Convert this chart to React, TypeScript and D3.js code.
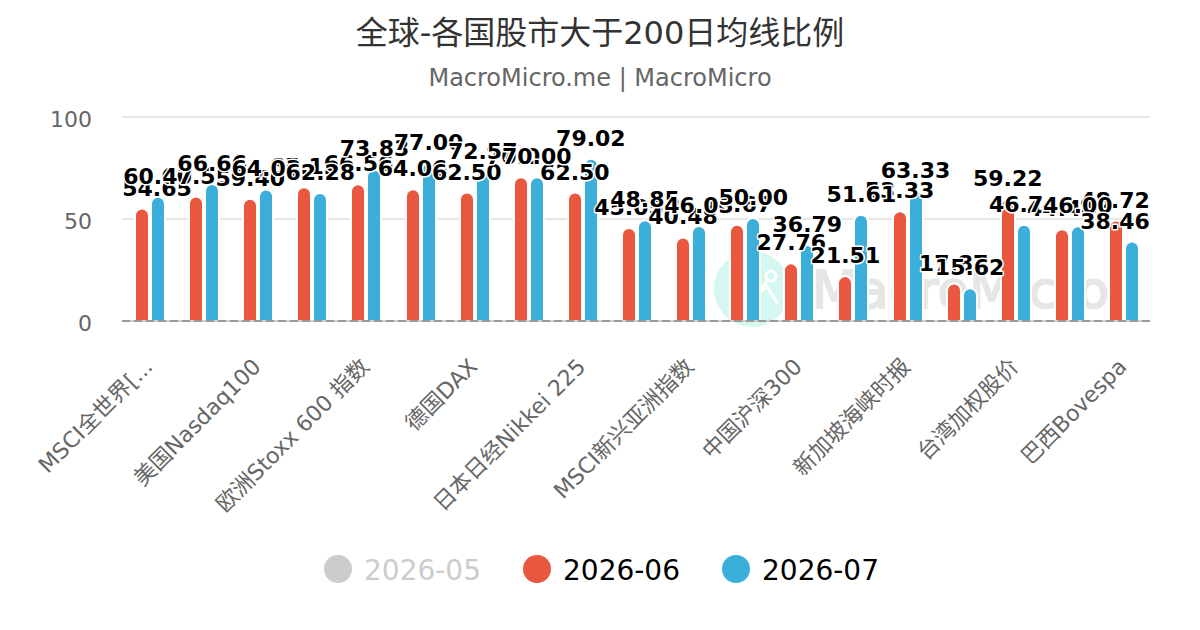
import { useEffect, useRef } from 'react'
import * as d3 from 'd3'

const TICK_LABELS = [
  'MSCI全世界[...',
  '美国Nasdaq100',
  '欧洲Stoxx 600 指数',
  '德国DAX',
  '日本日经Nikkei 225',
  'MSCI新兴亚洲指数',
  '中国沪深300',
  '新加坡海峡时报',
  '台湾加权股价',
  '巴西Bovespa',
]

const JUNE = [54.65, 60.53, 59.4, 65.12, 66.56, 64.06, 62.5, 70, 62.5, 45.05, 40.48, 46.67, 27.76, 21.51, 53.33, 17.87, 59.22, 44.44, 48.72]
const JULY = [60.47, 66.66, 64.03, 62.28, 73.83, 77, 72.57, 70, 79.02, 48.85, 46.03, 50, 36.79, 51.61, 63.33, 15.62, 46.74, 46, 38.46]

const LEGEND = [
  { label: '2026-05', color: '#cccccc', text: '#cccccc' },
  { label: '2026-06', color: '#E9573F', text: '#000000' },
  { label: '2026-07', color: '#3BAEDA', text: '#000000' },
]

const W = 1200
const H = 630
const FONT = '"DejaVu Sans", "Noto Sans CJK SC", sans-serif'

export default function App() {
  const svgRef = useRef<SVGSVGElement>(null)

  useEffect(() => {
    const svg = d3.select(svgRef.current!)
    svg.selectAll('*').remove()

    const x = d3.scaleBand<number>().domain(d3.range(JUNE.length)).range([122, 1150])
    const y = d3.scaleLinear().domain([0, 100]).range([321, 117])
    const inner = d3.scaleOrdinal<string, number>().domain(['jun', 'jul']).range([-14, 2])
    const barW = 14

    svg.append('text')
      .attr('x', W / 2).attr('y', 44).attr('text-anchor', 'middle')
      .attr('font-size', 32).attr('fill', '#333333')
      .text('全球-各国股市大于200日均线比例')
    svg.append('text')
      .attr('x', W / 2).attr('y', 86).attr('text-anchor', 'middle')
      .attr('font-size', 24).attr('fill', '#666666')
      .text('MacroMicro.me | MacroMicro')

    // watermark
    const wm = svg.append('g')
    wm.append('circle').attr('cx', 752).attr('cy', 289).attr('r', 38).attr('fill', '#d4f7ef')
    wm.append('circle').attr('cx', 771).attr('cy', 276).attr('r', 5).attr('fill', 'none').attr('stroke', '#fff').attr('stroke-width', 3)
    wm.append('path').attr('d', 'M767 281 L752 304 M757 294 L767 287 L778 304').attr('fill', 'none').attr('stroke', '#fff').attr('stroke-width', 3)
    wm.append('text')
      .attr('x', 812).attr('y', 308)
      .attr('font-size', 52).attr('fill', '#e6e6e6')
      .attr('stroke', '#e6e6e6').attr('stroke-width', 2)
      .text('MacroMicro')

    svg.append('g').selectAll('line').data([50, 100]).join('line')
      .attr('x1', 122).attr('x2', 1150)
      .attr('y1', d => y(d)).attr('y2', d => y(d))
      .attr('stroke', '#e6e6e6').attr('stroke-width', 2)

    svg.append('g')
      .attr('transform', 'translate(122,2)')
      .call(d3.axisLeft(y).tickValues([0, 50, 100]).tickSize(0).tickPadding(30))
      .call(ax => {
        ax.select('.domain').remove()
        ax.selectAll('.tick text')
          .attr('font-family', FONT).attr('font-size', 22).attr('fill', '#666666')
      })

    const barPath = (px: number, v: number) => {
      const p = d3.path()
      const r = barW / 2
      const top = y(v) - 1
      p.moveTo(px, y(0))
      p.lineTo(px, top + r)
      p.arcTo(px, top, px + r, top, r)
      p.arcTo(px + barW, top, px + barW, top + r, r)
      p.lineTo(px + barW, y(0))
      p.closePath()
      return p.toString()
    }

    const center = (i: number) => x(i)! + x.bandwidth() / 2
    const series = [
      { key: 'jun', values: JUNE, color: LEGEND[1].color },
      { key: 'jul', values: JULY, color: LEGEND[2].color },
    ]

    series.forEach(s => {
      svg.append('g').selectAll('path').data(s.values).join('path')
        .attr('d', (v, i) => barPath(Math.round(center(i) + inner(s.key)), v))
        .attr('fill', s.color).attr('stroke', '#ffffff').attr('stroke-width', 2)
    })

    // baseline
    svg.append('line')
      .attr('x1', 122).attr('x2', 1150).attr('y1', y(0)).attr('y2', y(0))
      .attr('stroke', '#cccccc').attr('stroke-width', 2)
    svg.append('line')
      .attr('x1', 122).attr('x2', 1150).attr('y1', y(0)).attr('y2', y(0))
      .attr('stroke', '#999999').attr('stroke-width', 2).attr('stroke-dasharray', '8 4')

    // labels are pushed back inside the plot area at both ends
    const labelHalf = 35
    series.forEach(s => {
      svg.append('g').selectAll('text').data(s.values).join('text')
        .attr('x', (v, i) => Math.min(1150 - labelHalf, Math.max(122 + labelHalf, center(i) + inner(s.key) + barW / 2)))
        .attr('y', v => y(v) - 14)
        .attr('text-anchor', 'middle')
        .attr('font-size', 22).attr('font-weight', 700)
        .attr('fill', '#000000').attr('stroke', '#ffffff').attr('stroke-width', 3)
        .attr('paint-order', 'stroke').attr('stroke-linejoin', 'round')
        .text(v => v.toFixed(2))
    })

    svg.append('g').selectAll('text').data(TICK_LABELS).join('text')
      .attr('transform', (d, i) => `translate(${center(i * 2) + 5},${368}) rotate(-45)`)
      .attr('text-anchor', 'end')
      .attr('font-size', 22).attr('fill', '#666666')
      .text(d => d)

    const legendX = [338, 537, 736]
    const item = svg.append('g').selectAll('g').data(LEGEND).join('g')
      .attr('transform', (d, i) => `translate(${legendX[i]},569)`)
    item.append('circle').attr('r', 14).attr('fill', d => d.color)
    item.append('text')
      .attr('x', 26).attr('y', 11)
      .attr('font-size', 28)
      .attr('fill', d => d.text)
      .text(d => d.label)
  }, [])

  return (
    <svg
      ref={svgRef}
      width={W}
      height={H}
      fontFamily={FONT}
      style={{ position: 'absolute', left: 0, top: 0, background: '#ffffff' }}
    />
  )
}
